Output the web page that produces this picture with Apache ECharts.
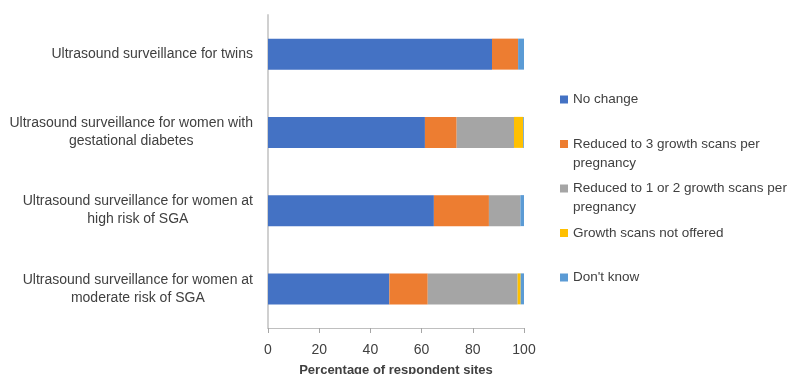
<html>
<head>
  <meta charset="utf-8">
  <title>ultrasound</title>
</head>
<body style="margin:0">
<div id="main" style="width:788px;height:374px;"></div>
<script src="https://cdn.jsdelivr.net/npm/echarts@6/dist/echarts.min.js"></script>
<script>
  var categories = [
    'Ultrasound surveillance for twins',
    'Ultrasound surveillance for women with\ngestational diabetes',
    'Ultrasound surveillance for women at\nhigh risk of SGA',
    'Ultrasound surveillance for women at\nmoderate risk of SGA'
  ];
  var seriesNames = [
    'No change',
    'Reduced to 3 growth scans per\npregnancy',
    'Reduced to 1 or 2 growth scans per\npregnancy',
    'Growth scans not offered',
    "Don't know"
  ];
  var noChange   = [87.5, 61.3, 64.8, 47.4];
  var reduced3   = [10.2, 12.4, 21.5, 15.0];
  var reduced12  = [0,    22.4, 12.3, 35.1];
  var notOffered = [0,    3.6,  0,    1.2];
  var dontKnow   = [2.3,  0.3,  1.4,  1.3];
  var colors = ['#4472C4', '#ED7D31', '#A5A5A5', '#FFC000', '#5B9BD5'];

  var values = [noChange, reduced3, reduced12, notOffered, dontKnow];
  var font = 'Liberation Sans';

  var myChart = echarts.init(document.getElementById('main'));

  var series = seriesNames.map(function (n, i) {
    return {
      name: n,
      type: 'bar',
      stack: 'all',
      barWidth: 31,
      itemStyle: { color: colors[i] },
      data: values[i]
    };
  });

  myChart.setOption({
    animation: false,
    textStyle: { fontFamily: font },
    grid: { left: 268, right: 264, top: 15, bottom: 46, containLabel: false, outerBoundsMode: 'none' },
    legend: {
      orient: 'vertical',
      left: 555,
      top: 66,
      itemWidth: 8,
      itemHeight: 8,
      itemGap: -12.5,
      icon: 'rect',
      textStyle: { fontFamily: font, fontSize: 13.5, color: '#404040', lineHeight: 19 },
      // pad every entry to three lines so the box sits on the first text line
      formatter: function (name) {
        return name.indexOf('\n') >= 0 ? '\n' + name : '\n' + name + '\n';
      },
      data: seriesNames
    },
    xAxis: {
      type: 'value',
      min: 0,
      max: 100,
      interval: 20,
      name: 'Percentage of respondent sites',
      nameLocation: 'middle',
      nameGap: 36,
      nameTextStyle: { fontFamily: font, fontSize: 13, fontWeight: 'bold', color: '#404040' },
      axisLine: { show: true, lineStyle: { color: '#BFBFBF' } },
      axisTick: { show: true, length: 5, lineStyle: { color: '#A6A6A6' } },
      axisLabel: { fontSize: 14, color: '#404040', margin: 15 },
      splitLine: { show: false }
    },
    yAxis: [{
      type: 'category',
      inverse: true,
      data: categories,
      axisLine: { lineStyle: { color: '#D0D0D0', width: 2 } },
      axisTick: { length: 6, lineStyle: { color: '#A6A6A6' } },
      axisLabel: {
        margin: 15,
        fontSize: 14,
        color: '#404040',
        formatter: function (v) {
          return v.split('\n').map(function (l) { return '{c|' + l + '}'; }).join('\n');
        },
        rich: { c: { align: 'center', fontSize: 14, color: '#404040', lineHeight: 18, fontFamily: font } }
      }
    }, {
      type: 'category',
      inverse: true,
      position: 'left',
      data: categories,
      axisLine: { show: false },
      axisTick: { alignWithLabel: true, length: 6, lineStyle: { color: '#A6A6A6' } },
      axisLabel: { show: false }
    }],
    series: series
  });
</script>
</body>
</html>
